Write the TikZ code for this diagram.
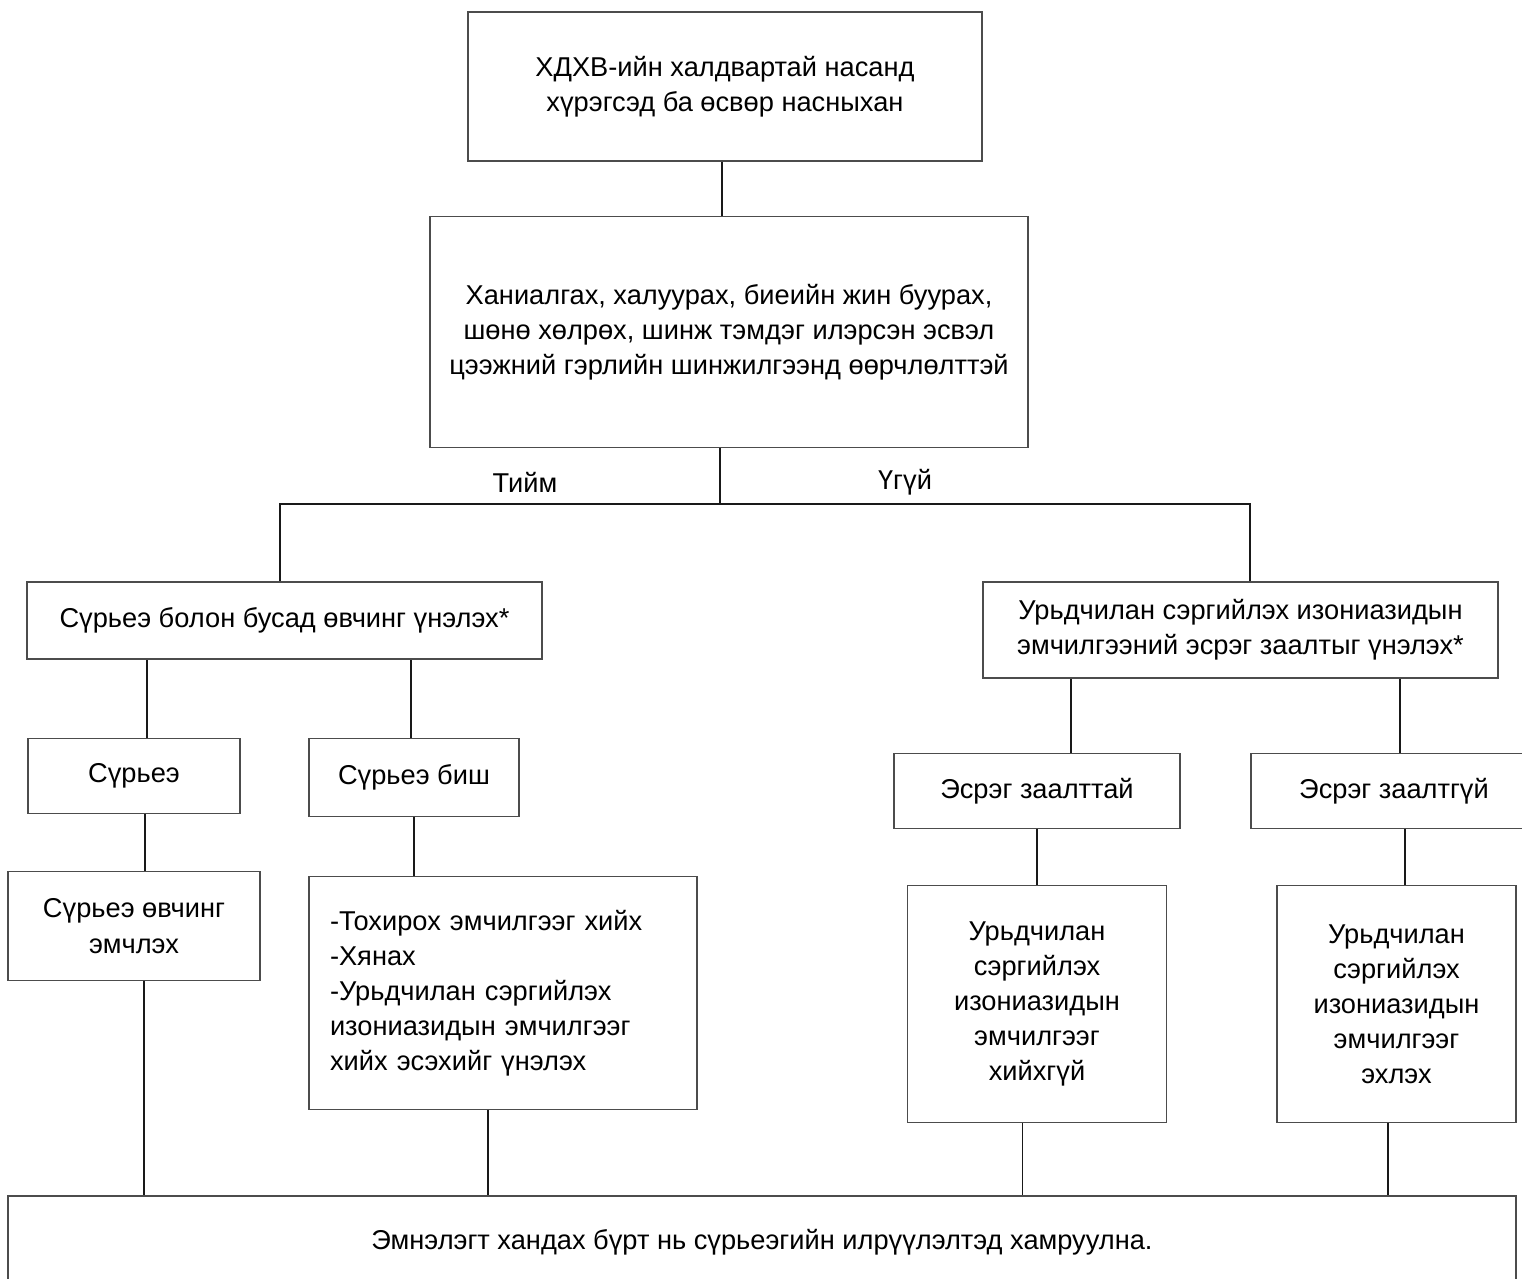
\documentclass[tikz,border=0pt]{standalone}
\usepackage{fontspec}
\setmainfont{Liberation Sans}
\usetikzlibrary{positioning}

\begin{document}
\begin{tikzpicture}[
  font=\fontsize{15.5}{20}\selectfont,
  box/.style={draw=black!70, line width=.8pt, align=center, inner sep=2pt},
  ln/.style={draw=black!90, line width=.85pt},
  lbl/.style={inner sep=1pt}]
\useasboundingbox (0,0) rectangle (30.44,-25.58);
\node[box, minimum width=10.28cm, minimum height=2.98cm] (hiv) at (14.5,-1.73) {ХДХВ-ийн халдвартай насанд\\хүрэгсэд ба өсвөр насныхан};
\node[box, minimum width=11.96cm, minimum height=4.62cm, below=1.08cm of hiv, xshift=.08cm] (symp) {Ханиалгах, халуурах, биеийн жин буурах,\\шөнө хөлрөх, шинж тэмдэг илэрсэн эсвэл\\цээжний гэрлийн шинжилгээнд өөрчлөлттэй};
\node[box, minimum width=10.3cm, minimum height=1.54cm, below=2.66cm of symp, xshift=-8.89cm] (tbeval) {Сүрьеэ болон бусад өвчинг үнэлэх*};
\node[box, minimum width=10.3cm, minimum height=1.92cm, below=2.66cm of symp, xshift=10.23cm] (ipteval) {Урьдчилан сэргийлэх изониазидын\\эмчилгээний эсрэг заалтыг үнэлэх*};
\node[box, minimum width=4.24cm, minimum height=1.5cm, below=1.56cm of tbeval, xshift=-3.01cm] (tbyes) {Сүрьеэ};
\node[box, minimum width=4.2cm, minimum height=1.56cm, below=1.56cm of tbeval, xshift=2.59cm] (tbno) {Сүрьеэ биш};
\node[box, minimum width=5.72cm, minimum height=1.5cm, below=1.48cm of ipteval, xshift=-4.07cm] (contra) {Эсрэг заалттай};
\node[box, minimum width=5.72cm, minimum height=1.5cm, below=1.48cm of ipteval, xshift=3.07cm] (nocontra) {Эсрэг заалтгүй};
\node[box, minimum width=5.04cm, minimum height=2.18cm, below=1.14cm of tbyes] (treat) {Сүрьеэ өвчинг\\эмчлэх};
\node[box, align=left, text width=6.92cm, inner xsep=.42cm, minimum height=4.66cm, below=1.18cm of tbno, xshift=1.78cm] (other) {-Тохирох эмчилгээг хийх\\-Хянах\\-Урьдчилан сэргийлэх\\изониазидын эмчилгээг\\хийх эсэхийг үнэлэх};
\node[box, minimum width=5.18cm, minimum height=4.74cm, below=1.12cm of contra] (noipt) {Урьдчилан\\сэргийлэх\\изониазидын\\эмчилгээг\\хийхгүй};
\node[box, minimum width=4.78cm, minimum height=4.74cm, below=1.12cm of nocontra, xshift=.05cm] (ipt) {Урьдчилан\\сэргийлэх\\изониазидын\\эмчилгээг\\эхлэх};
\node[box, minimum width=30.16cm, minimum height=1.84cm, below=1.7cm of other, xshift=5.18cm] (screen) {Эмнэлэгт хандах бүрт нь сүрьеэгийн илрүүлэлтэд хамруулна.};
% fork under the symptom box
\draw[ln] ([xshift=-.06cm]hiv.south) -- ([xshift=-.06cm]hiv.south |- symp.north);
\draw[ln] ([xshift=-.18cm]symp.south) -- ++(0,-1.12) coordinate (fork);
\draw[ln] ([xshift=-.09cm]tbeval.north) |- (fork) -| ([xshift=.19cm]ipteval.north);
\node[lbl] (yes) at ([xshift=-3.9cm,yshift=.44cm]fork) {Тийм};
\node[lbl] (no) at ([xshift=3.7cm,yshift=.44cm]fork) {Үгүй};
% left branch
\draw[ln] ([xshift=.26cm]tbyes.north) -- ([xshift=.26cm]tbyes.north |- tbeval.south);
\draw[ln] ([xshift=-.06cm]tbno.north) -- ([xshift=-.06cm]tbno.north |- tbeval.south);
\draw[ln] ([xshift=.22cm]tbyes.south) -- ([xshift=.22cm]tbyes.south |- treat.north);
\draw[ln] (tbno.south) -- (tbno.south |- other.north);
% right branch
\draw[ln] ([xshift=.68cm]contra.north) -- ([xshift=.68cm]contra.north |- ipteval.south);
\draw[ln] ([xshift=.12cm]nocontra.north) -- ([xshift=.12cm]nocontra.north |- ipteval.south);
\draw[ln] (contra.south) -- (contra.south |- noipt.north);
\draw[ln] ([xshift=.22cm]nocontra.south) -- ([xshift=.22cm]nocontra.south |- ipt.north);
% into the screening box
\draw[ln] ([xshift=.2cm]treat.south) -- ([xshift=.2cm]treat.south |- screen.north);
\draw[ln] ([xshift=-.3cm]other.south) -- ([xshift=-.3cm]other.south |- screen.north);
\draw[ln] ([xshift=-.29cm]noipt.south) -- ([xshift=-.29cm]noipt.south |- screen.north);
\draw[ln] ([xshift=-.17cm]ipt.south) -- ([xshift=-.17cm]ipt.south |- screen.north);
\end{tikzpicture}
\end{document}
